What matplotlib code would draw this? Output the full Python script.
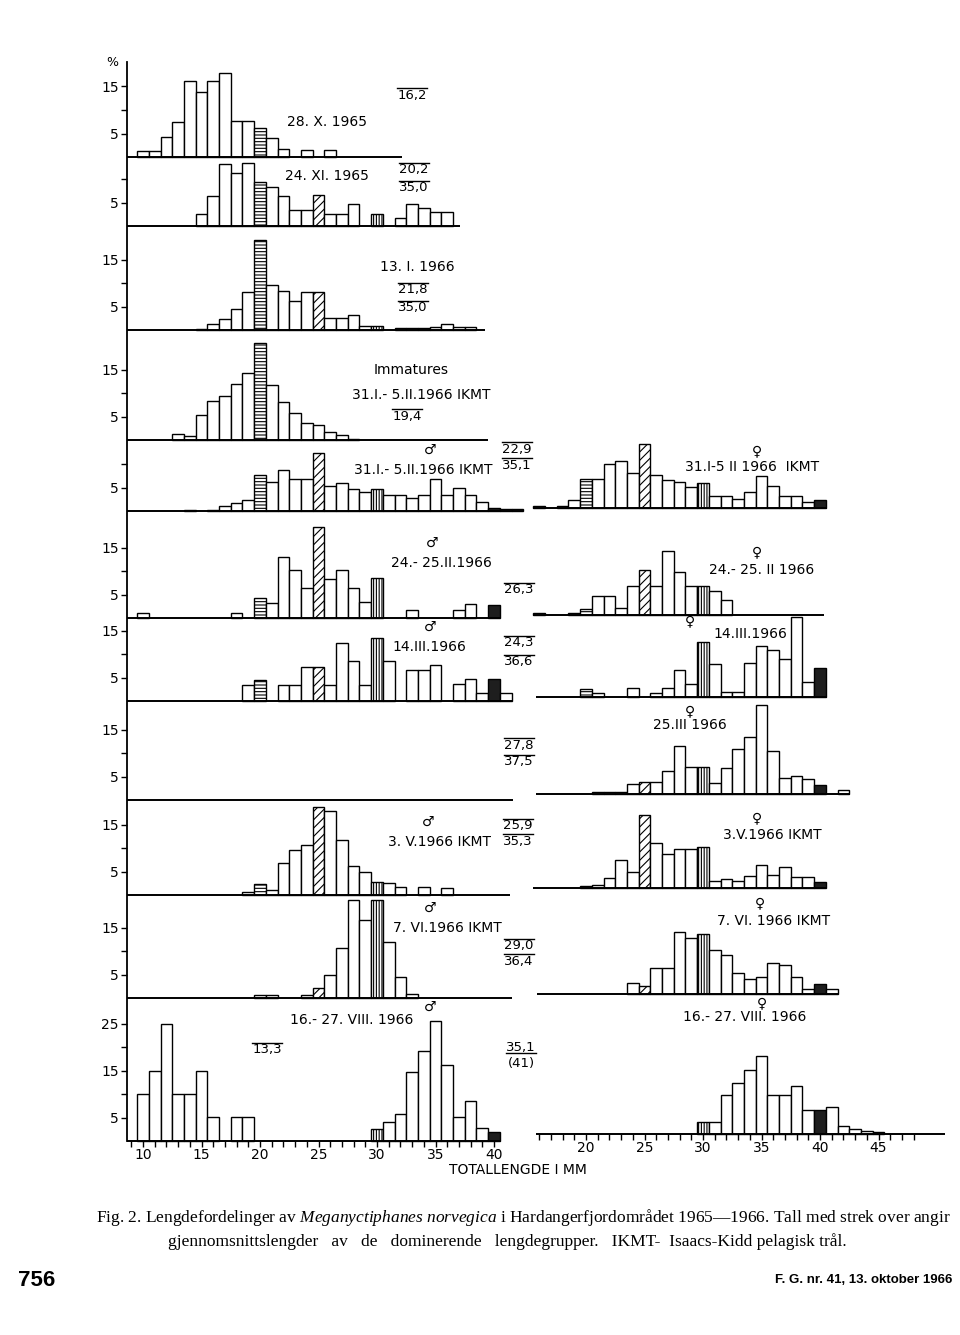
import numpy as np
import matplotlib
matplotlib.use("Agg")
import matplotlib.pyplot as plt
from matplotlib.lines import Line2D

plt.rcParams['font.family'] = ['DejaVu Sans']
plt.rcParams['mathtext.fontset'] = 'custom'
plt.rcParams['mathtext.rm'] = 'Liberation Serif'
plt.rcParams['mathtext.it'] = 'Liberation Serif:italic'
plt.rcParams['mathtext.bf'] = 'Liberation Serif:bold'
plt.rcParams['hatch.linewidth'] = 0.8

#%% Data: length classes (mm, first class) and percentages
okt28_start = 10
okt28_pct = [1.3, 1.3, 4.3, 7.5, 16.1, 13.9, 16.1, 17.8, 7.6, 7.6, 6.1, 4.1, 1.7, 0, 1.4, 0, 1.4]

nov24_start = 15
nov24_pct = [2.6, 6.3, 13.2, 11.2, 13.3, 9.4, 8.2, 6.4, 3.3, 3.3, 6.5, 2.6, 2.6, 4.7, 0,
             2.6, 0, 1.7, 4.7, 3.8, 2.9, 2.9]

jan13_start = 15
jan13_pct = [0.3, 1.2, 2.3, 4.4, 8.1, 19.1, 9.6, 8.4, 6.1, 8.1, 8.1, 2.6, 2.6, 3.2, 0.9,
             0.9, 0, 0.5, 0.5, 0.5, 0.6, 1.2, 0.7, 0.7]

imm_start = 13
imm_pct = [1.3, 0.9, 5.4, 8.4, 9.4, 12.0, 14.3, 20.6, 11.6, 8.0, 5.7, 3.7, 3.1, 1.7, 1.1, 0.3]

febikmt_m_start = 14
febikmt_m_pct = [0.3, 0, 0.3, 1.0, 1.6, 2.3, 7.6, 6.2, 8.7, 6.9, 6.9, 12.4, 5.3, 5.9, 4.6,
                 4.1, 4.6, 3.4, 3.4, 2.7, 3.4, 6.9, 3.4, 4.9, 3.4, 1.9, 0.7, 0.5, 0.5]
febikmt_f_start = 16
febikmt_f_pct = [0.5, 0, 0.5, 1.8, 6.2, 6.2, 9.3, 10.0, 7.5, 13.6, 7.1, 5.9, 5.6, 4.5, 5.4,
                 2.5, 2.5, 2.0, 3.4, 6.8, 4.6, 2.6, 2.6, 1.2, 1.8]

feb24_m_start = 10
feb24_m_pct = [1.1, 0, 0, 0, 0, 0, 0, 0, 1.1, 0, 4.2, 3.2, 13.0, 10.2, 6.3, 19.4, 8.3, 10.2,
               6.3, 3.3, 8.5, 0, 0, 1.6, 0, 0, 0, 1.8, 2.9, 0, 2.7]
feb24_f_start = 16
feb24_f_pct = [0.4, 0, 0, 0.4, 1.3, 4.1, 4.1, 1.5, 6.1, 9.6, 6.1, 13.6, 9.1, 6.1, 6.1, 5.1, 3.1]

mar14_m_start = 19
mar14_m_pct = [3.3, 4.4, 0, 3.3, 3.3, 7.3, 7.3, 3.3, 12.3, 8.5, 3.3, 13.4, 8.5, 0, 6.5, 6.5,
               7.7, 0, 3.6, 4.7, 1.7, 4.7, 1.7]
mar14_f_start = 20
mar14_f_pct = [1.8, 0.9, 0, 0, 2.0, 0, 0.9, 1.9, 5.8, 2.8, 11.8, 7.0, 1.0, 1.0, 7.2, 10.9,
               10.0, 8.0, 17.0, 3.2, 6.2]

mar25_f_start = 21
mar25_f_pct = [0.5, 0.4, 0.5, 2.1, 2.6, 2.6, 5.0, 10.3, 5.8, 5.7, 2.4, 5.6, 9.6, 12.1, 19.0,
               9.2, 3.5, 3.8, 3.1, 1.9, 0, 0.8]

mai3_m_start = 19
mai3_m_pct = [0.6, 2.3, 1.1, 6.8, 9.6, 10.6, 18.7, 17.9, 11.8, 6.1, 4.9, 2.8, 2.5, 1.8, 0,
              1.8, 0, 1.4]
mai3_f_start = 20
mai3_f_pct = [0.5, 0.6, 2.1, 6.0, 3.5, 15.5, 9.6, 7.2, 8.2, 8.2, 8.8, 1.4, 1.9, 1.4, 2.5,
              4.9, 2.8, 4.4, 2.3, 2.3, 1.2]

jun7_m_start = 20
jun7_m_pct = [0.6, 0.6, 0, 0, 0.6, 2.2, 4.9, 10.6, 20.9, 16.6, 20.9, 11.9, 4.4, 0.9]
jun7_f_start = 24
jun7_f_pct = [2.3, 1.8, 5.5, 5.5, 13.1, 12.0, 12.8, 9.3, 8.2, 4.4, 3.1, 3.6, 6.7, 6.1, 3.6,
              1.0, 2.1, 1.0]

aug_m_start = 10
aug_m_pct = [10.0, 15.0, 25.0, 10.0, 10.0, 15.0, 5.2, 0, 5.2, 5.2, 0, 0, 0, 0, 0, 0, 0, 0,
             0, 0, 2.6, 4.1, 5.7, 14.7, 19.1, 25.6, 16.1, 5.2, 8.6, 2.7, 1.9]
aug_f_start = 30
aug_f_pct = [2.5, 2.5, 8.4, 10.8, 13.6, 16.6, 8.4, 8.4, 10.2, 5.2, 5.2, 5.7, 1.8, 1.0, 0.7, 0.5]

left_xlabels = [10, 15, 20, 25, 30, 35, 40]
right_xlabels = [20, 25, 30, 35, 40, 45]

#%% Layout (figure pixels)
W, H = 960, 1335
PX_MM = 11.7      # pixels per mm
PX_PCT = 4.7      # pixels per percent
X30 = {'L': 377, 'R': 703}   # pixel position of the 30 mm class
XRANGE = {'L': (8.63, 43.0), 'R': (15.0, 52.0)}
TOP = 27.0
MARKS = {20: 'h', 25: 'd', 30: 'v', 40: 'b'}
LW = 1.0

fig = plt.figure(figsize=(W / 100, H / 100), dpi=100)
fig.patch.set_facecolor('white')


def make_axes(col, base):
    lo, hi = XRANGE[col]
    left_px = X30[col] + (lo - 30) * PX_MM
    ax = fig.add_axes([left_px / W, (H - base) / H, (hi - lo) * PX_MM / W, TOP * PX_PCT / H])
    ax.set_xlim(lo, hi)
    ax.set_ylim(0, TOP)
    ax.patch.set_visible(False)
    for s in ax.spines.values():
        s.set_visible(False)
    ax.set_xticks([])
    ax.set_yticks([])
    return ax


def panel(col, base, start, pct, line, marks=MARKS, yt=None):
    ax = make_axes(col, base)
    cls = np.arange(start, start + len(pct))
    vals = np.array(pct, dtype=float)
    keep = vals > 0
    bars = ax.bar(cls[keep], vals[keep], width=1.0, color='white', edgecolor='black',
                  linewidth=LW, clip_on=False, zorder=2)
    for b, c in zip(bars, cls[keep]):
        kind = marks.get(int(c))
        if kind == 'h':
            b.set_hatch('-----')
        elif kind == 'd':
            b.set_hatch('////')
        elif kind == 'v':
            b.set_hatch('||||||')
        elif kind == 'b':
            b.set_facecolor('#1e1e1e')
    ax.plot(line, [0, 0], color='black', lw=1.4, clip_on=False, zorder=3,
            solid_capstyle='butt')
    if yt is not None:
        ticks, labels = yt
        ax.set_yticks(ticks)
        ax.set_yticklabels(labels)
        ax.tick_params(axis='y', left=True, direction='out', length=4, width=1,
                       pad=2, labelsize=10)
    return ax


Y3 = ([5, 10, 15], ['5', '', '15'])
Y2 = ([5, 10], ['5', ''])
LLINE = XRANGE['L'][0]

# left column
panel('L', 157, okt28_start, okt28_pct, [LLINE, 32.1], yt=Y3)
panel('L', 226, nov24_start, nov24_pct, [LLINE, 37.1], yt=Y2)
panel('L', 330, jan13_start, jan13_pct, [LLINE, 39.2], yt=Y3)
panel('L', 440, imm_start, imm_pct, [LLINE, 39.5], marks={20: 'h'}, yt=Y3)
panel('L', 511, febikmt_m_start, febikmt_m_pct, [LLINE, 42.5], yt=Y2)
panel('L', 618, feb24_m_start, feb24_m_pct, [LLINE, 40.5], yt=Y3)
panel('L', 701, mar14_m_start, mar14_m_pct, [LLINE, 41.5], yt=Y3)
panel('L', 800, 30, [], [LLINE, 41.6], yt=Y3)
panel('L', 895, mai3_m_start, mai3_m_pct, [LLINE, 41.4], yt=Y3)
panel('L', 998, jun7_m_start, jun7_m_pct, [LLINE, 41.5], yt=Y3)
axb = panel('L', 1141, aug_m_start, aug_m_pct, [LLINE, 40.6],
            yt=([5, 10, 15, 20, 25], ['5', '', '15', '', '25']))

# right column
panel('R', 508, febikmt_f_start, febikmt_f_pct, [15.5, 40.6])
panel('R', 615, feb24_f_start, feb24_f_pct, [15.5, 40.3])
panel('R', 697, mar14_f_start, mar14_f_pct, [15.7, 40.6])
panel('R', 794, mar25_f_start, mar25_f_pct, [15.7, 42.6])
panel('R', 888, mai3_f_start, mai3_f_pct, [15.5, 40.5])
panel('R', 994, jun7_f_start, jun7_f_pct, [15.8, 41.5])
axr = panel('R', 1134, aug_f_start, aug_f_pct, [15.7, 50.7])

# bottom x axes
for ax, lo, hi, labs in [(axb, 9, 40, left_xlabels), (axr, 16, 48, right_xlabels)]:
    ticks = list(range(lo, hi + 1))
    ax.set_xticks(ticks)
    ax.set_xticklabels([str(t) if t in labs else '' for t in ticks])
    ax.tick_params(axis='x', bottom=True, direction='out', length=4, width=1,
                   pad=1, labelsize=10)

# continuous left spine
frame = fig.add_axes([127 / W, (H - 1141) / H, 1 / W, (1141 - 62) / H])
frame.set_xticks([])
frame.set_yticks([])
frame.patch.set_visible(False)
for k in ('top', 'right', 'bottom'):
    frame.spines[k].set_visible(False)
frame.spines['left'].set_linewidth(1.3)


#%% Labels
def txt(x, y, s, size=10, ha='center', **kw):
    return fig.text(x / W, 1 - y / H, s, ha=ha, va='center', fontsize=size, **kw)


txt(112, 62, '%', size=9)

labels = [
    (327, 122, '28. X. 1965'),
    (327, 176, '24. XI. 1965'),
    (417, 267, '13. I. 1966'),
    (411, 370, 'Immatures'),
    (421, 395, '31.I.- 5.II.1966 IKMT'),
    (430, 450, '\u2642'),
    (423, 470, '31.I.- 5.II.1966 IKMT'),
    (757, 451, '\u2640'),
    (752, 467, '31.I-5 II 1966  IKMT'),
    (432, 543, '\u2642'),
    (441, 563, '24.- 25.II.1966'),
    (757, 552, '\u2640'),
    (762, 570, '24.- 25. II 1966'),
    (430, 627, '\u2642'),
    (429, 647, '14.III.1966'),
    (690, 621, '\u2640'),
    (750, 634, '14.III.1966'),
    (690, 711, '\u2640'),
    (690, 725, '25.III 1966'),
    (428, 822, '\u2642'),
    (440, 842, '3. V.1966 IKMT'),
    (757, 818, '\u2640'),
    (772, 835, '3.V.1966 IKMT'),
    (430, 908, '\u2642'),
    (447, 928, '7. VI.1966 IKMT'),
    (760, 903, '\u2640'),
    (774, 921, '7. VI. 1966 IKMT'),
    (430, 1007, '\u2642'),
    (352, 1020, '16.- 27. VIII. 1966'),
    (762, 1003, '\u2640'),
    (745, 1017, '16.- 27. VIII. 1966'),
    (518, 1170, 'TOTALLENGDE I MM'),
]
for x, y, s in labels:
    txt(x, y, s, size=10)

renderer = fig.canvas.get_renderer()


def mean_text(x, y, s, over=True):
    t = txt(x, y, s, size=9.5)
    bb = t.get_window_extent(renderer=renderer)
    yl = bb.y1 + 0.5 if over else bb.y0 + 1
    fig.add_artist(Line2D([bb.x0 / W, bb.x1 / W], [yl / H, yl / H],
                          transform=fig.transFigure, color='black', lw=1.0))


means = [
    (412, 95, '16,2'), (414, 170, '20,2'), (414, 188, '35,0'),
    (413, 290, '21,8'), (413, 308, '35,0'), (407, 416, '19,4'),
    (517, 449, '22,9'), (517, 465, '35,1'), (519, 590, '26,3'),
    (519, 643, '24,3'), (519, 662, '36,6'), (519, 745, '27,8'), (519, 762, '37,5'),
    (518, 826, '25,9'), (518, 841, '35,3'), (519, 946, '29,0'), (519, 961, '36,4'),
    (267, 1050, '13,3'),
]
for x, y, s in means:
    mean_text(x, y, s)
mean_text(521, 1047, '35,1', over=False)
txt(521, 1064, '(41)', size=9.5)

#%% Caption
cap1 = ('Fig. 2. Lengdefordelinger av $\\mathit{Meganyctiphanes\\ norvegica}$ '
        'i Hardangerfjordområdet 1965\u20141966. Tall med strek over angir')
cap2 = ('gjennomsnittslengder   av   de   dominerende   lengdegrupper.   '
        'IKMT-  Isaacs-Kidd pelagisk trål.')
c1 = fig.text(96 / W, 1 - 1217 / H, cap1, ha='left', va='center', fontsize=11,
              family='Liberation Serif')
w1 = c1.get_window_extent(renderer=renderer).width
fs = 11 * 854 / w1
c1.set_fontsize(fs)
fig.text(168 / W, 1 - 1242 / H, cap2, ha='left', va='center', fontsize=fs,
         family='Liberation Serif')

fig.text(18 / W, 1 - 1281 / H, '756', ha='left', va='center', fontsize=16,
         fontweight='bold', family=['Liberation Sans Narrow', 'Liberation Sans'])
fig.text(952 / W, 1 - 1280 / H, 'F. G. nr. 41, 13. oktober 1966', ha='right',
         va='center', fontsize=9.5, fontweight='bold',
         family=['Liberation Sans Narrow', 'Liberation Sans'])

fig.savefig('out.png', dpi=100, facecolor='white')
